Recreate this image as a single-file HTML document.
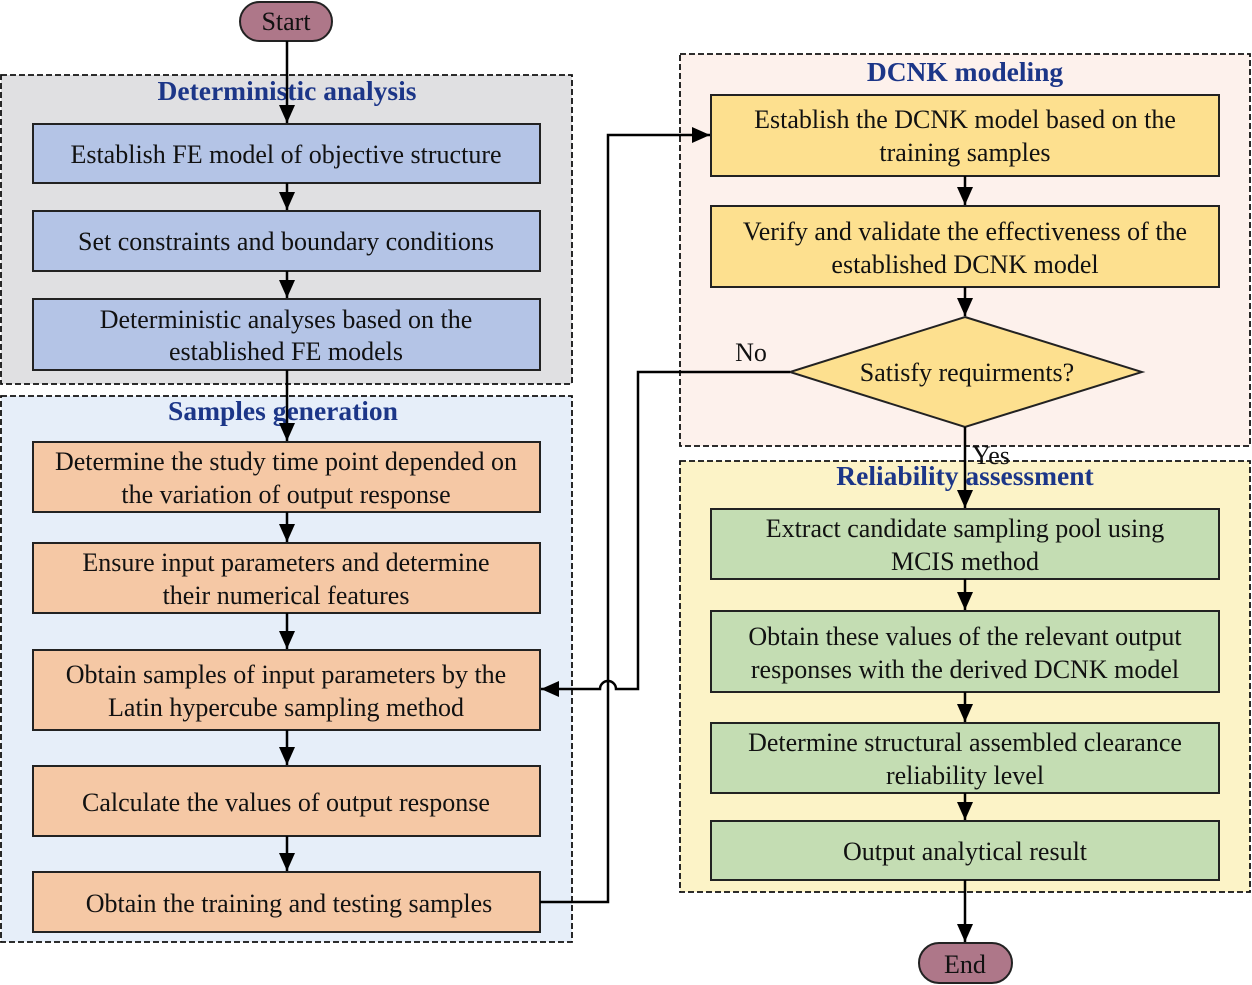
<!DOCTYPE html>
<html><head><meta charset="utf-8"><style>
html,body{margin:0;padding:0;background:#fff;}
svg{display:block;}
text{font-family:"Liberation Serif","DejaVu Serif",serif;font-size:26px;fill:#111;text-anchor:middle;}
.t{font-weight:bold;fill:#1c3688;font-size:27.5px;}
</style></head><body>
<svg width="1252" height="985" viewBox="0 0 1252 985" xmlns="http://www.w3.org/2000/svg">
<defs><marker id="b" markerWidth="20" markerHeight="16" refX="18" refY="8" orient="auto" markerUnits="userSpaceOnUse"><path d="M0,0 L18,8 L0,16 z" fill="#000"/></marker></defs>
<g stroke="#111" stroke-width="1.8" stroke-dasharray="6,3">
<rect x="1" y="75" width="571" height="309" fill="#e0e0e2"/>
<rect x="1" y="396" width="571" height="546" fill="#e6eef9"/>
<rect x="680" y="54" width="570" height="392" fill="#fdf1ec"/>
<rect x="680" y="461" width="570" height="431" fill="#fcf3c7"/>
</g>
<text class="t" x="287" y="100">Deterministic analysis</text>
<text class="t" x="283" y="420">Samples generation</text>
<text class="t" x="965" y="81">DCNK modeling</text>
<text class="t" x="965" y="485">Reliability assessment</text>
<g stroke="#222" stroke-width="2">
<rect x="240" y="2" width="92" height="39" rx="19.5" fill="#ae7789"/>
<rect x="919" y="943" width="93" height="40" rx="20" fill="#ae7789"/>
<rect x="33" y="124" width="507" height="59" fill="#b4c4e6"/>
<rect x="33" y="211" width="507" height="60" fill="#b4c4e6"/>
<rect x="33" y="299" width="507" height="71" fill="#b4c4e6"/>
<rect x="33" y="442" width="507" height="70" fill="#f5c8a5"/>
<rect x="33" y="543" width="507" height="70" fill="#f5c8a5"/>
<rect x="33" y="650" width="507" height="80" fill="#f5c8a5"/>
<rect x="33" y="766" width="507" height="70" fill="#f5c8a5"/>
<rect x="33" y="872" width="507" height="60" fill="#f5c8a5"/>
<rect x="711" y="95" width="508" height="81" fill="#fde08f"/>
<rect x="711" y="206" width="508" height="81" fill="#fde08f"/>
<polygon points="965,317 1142,372 965,427 790,372" fill="#fde08f"/>
<rect x="711" y="509" width="508" height="70" fill="#c4ddb3"/>
<rect x="711" y="611" width="508" height="81" fill="#c4ddb3"/>
<rect x="711" y="723" width="508" height="70" fill="#c4ddb3"/>
<rect x="711" y="821" width="508" height="59" fill="#c4ddb3"/>
</g>
<g stroke="#000" stroke-width="2.5" fill="none">
<line x1="287" y1="41" x2="287" y2="123" marker-end="url(#b)"/>
<line x1="287" y1="183" x2="287" y2="210" marker-end="url(#b)"/>
<line x1="287" y1="271" x2="287" y2="298" marker-end="url(#b)"/>
<line x1="287" y1="370" x2="287" y2="441" marker-end="url(#b)"/>
<line x1="287" y1="512" x2="287" y2="542" marker-end="url(#b)"/>
<line x1="287" y1="613" x2="287" y2="649" marker-end="url(#b)"/>
<line x1="287" y1="730" x2="287" y2="765" marker-end="url(#b)"/>
<line x1="287" y1="836" x2="287" y2="871" marker-end="url(#b)"/>
<polyline points="540,902 608,902 608,135 710,135" marker-end="url(#b)"/>
<line x1="965" y1="176" x2="965" y2="205" marker-end="url(#b)"/>
<line x1="965" y1="287" x2="965" y2="316" marker-end="url(#b)"/>
<line x1="965" y1="427" x2="965" y2="508" marker-end="url(#b)"/>
<line x1="965" y1="579" x2="965" y2="610" marker-end="url(#b)"/>
<line x1="965" y1="692" x2="965" y2="722" marker-end="url(#b)"/>
<line x1="965" y1="793" x2="965" y2="820" marker-end="url(#b)"/>
<line x1="965" y1="880" x2="965" y2="942" marker-end="url(#b)"/>
<path d="M790,372 L638,372 L638,689 L616,689 A8,8 0 0 0 600,689 L541,689" marker-end="url(#b)"/>
</g>
<text x="286" y="30">Start</text>
<text x="965" y="973">End</text>
<text x="286" y="163">Establish FE model of objective structure</text>
<text x="286" y="250">Set constraints and boundary conditions</text>
<text x="286" y="328">Deterministic analyses based on the</text>
<text x="286" y="360">established FE models</text>
<text x="286" y="470">Determine the study time point depended on</text>
<text x="286" y="503">the variation of output response</text>
<text x="286" y="571">Ensure input parameters and determine</text>
<text x="286" y="604">their numerical features</text>
<text x="286" y="683">Obtain samples of input parameters by the</text>
<text x="286" y="716">Latin hypercube sampling method</text>
<text x="286" y="811">Calculate the values of output response</text>
<text x="289" y="912">Obtain the training and testing samples</text>
<text x="965" y="128">Establish the DCNK model based on the</text>
<text x="965" y="161">training samples</text>
<text x="965" y="240">Verify and validate the effectiveness of the</text>
<text x="965" y="273">established DCNK model</text>
<text x="967" y="381">Satisfy requirments?</text>
<text x="751" y="361">No</text>
<text x="991" y="464">Yes</text>
<text x="965" y="537">Extract candidate sampling pool using</text>
<text x="965" y="570">MCIS method</text>
<text x="965" y="645">Obtain these values of the relevant output</text>
<text x="965" y="678">responses with the derived DCNK model</text>
<text x="965" y="751">Determine structural assembled clearance</text>
<text x="965" y="784">reliability level</text>
<text x="965" y="860">Output analytical result</text>
</svg>
</body></html>
